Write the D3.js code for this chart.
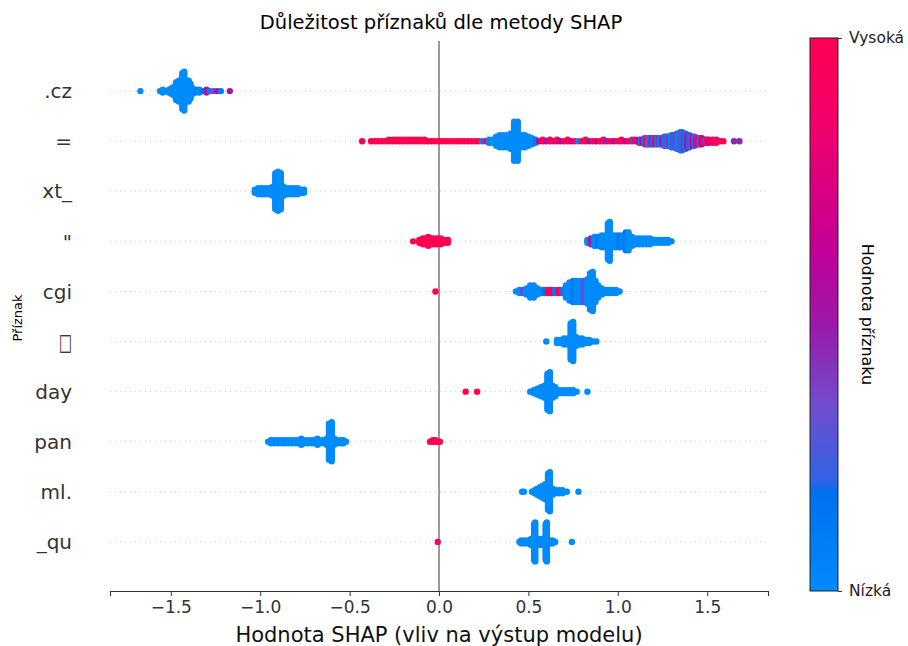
<!DOCTYPE html>
<html>
<head>
<meta charset="utf-8">
<script src="https://cdn.jsdelivr.net/npm/d3@7"></script>
<style>
  body { margin: 0; background: #fff; }
  svg { display: block; font-family: "DejaVu Sans", sans-serif; }
</style>
</head>
<body>
<svg id="chart" width="908" height="646"></svg>
<script>
// features, top to bottom (the sixth one is shown as a missing-glyph box)
const features = [".cz", "=", "xt_", "\"", "cgi", "\u25A1", "day", "pan", "ml.", "_qu"];

// each bin: [shap value, number of samples stacked there, feature value 0..1]
const czBins = [
  [-1.67, 1, 0], [-1.56, 1, 0], [-1.545, 3, 0], [-1.53, 1, 0], [-1.51, 3, 0], [-1.495, 5, 0],
  [-1.48, 7, 0], [-1.47, 13, 0], [-1.455, 15, 0], [-1.445, 15, 0], [-1.435, 25, 0], [-1.425, 27, 0],
  [-1.41, 15, 0], [-1.40, 15, 0], [-1.39, 11, 0], [-1.38, 5, 0],
  [-1.36, 3, 0.05], [-1.34, 3, 0], [-1.32, 1, 0.15], [-1.30, 3, 0.45], [-1.28, 1, 0.2],
  [-1.26, 1, 0.3], [-1.24, 1, 0.55], [-1.22, 1, 0.1], [-1.17, 1, 0.5]
];
const eqBins = [
  [-0.43, 1, 1],
  [-0.38, 1, 1], [-0.36, 1, 1], [-0.34, 1, 1], [-0.32, 1, 1], [-0.30, 1, 1],
  [-0.28, 2, 1], [-0.26, 2, 1], [-0.24, 2, 1], [-0.22, 2, 1], [-0.20, 2, 1], [-0.18, 2, 1],
  [-0.16, 2, 1], [-0.14, 2, 1], [-0.12, 2, 1], [-0.10, 2, 1], [-0.08, 2, 1],
  [-0.06, 1, 1], [-0.04, 1, 1], [-0.02, 1, 1], [0.00, 1, 1], [0.02, 1, 1], [0.04, 1, 1],
  [0.06, 1, 1], [0.08, 1, 1], [0.10, 1, 1], [0.12, 1, 1], [0.14, 1, 1], [0.16, 1, 1],
  [0.18, 1, 1], [0.20, 1, 1], [0.22, 1, 1],
  [0.24, 1, 0.05], [0.26, 1, 1], [0.28, 3, 0.05],
  [0.30, 3, 0], [0.32, 7, 0], [0.34, 9, 0], [0.36, 9, 0], [0.38, 9, 0], [0.40, 11, 0],
  [0.42, 27, 0], [0.44, 27, 0], [0.46, 9, 0], [0.48, 9, 0], [0.50, 7, 0], [0.52, 5, 0], [0.54, 3, 0.1],
  [0.56, 1, 0.6], [0.58, 2, 1], [0.60, 1, 0.5], [0.62, 2, 1], [0.64, 1, 0.7], [0.66, 2, 1],
  [0.68, 1, 0.55], [0.70, 1, 1], [0.72, 2, 1], [0.74, 1, 0.6], [0.76, 1, 1], [0.78, 1, 0.05],
  [0.80, 1, 1], [0.82, 2, 1], [0.84, 1, 0.5], [0.86, 1, 1], [0.88, 1, 0.65], [0.90, 1, 1],
  [0.92, 2, 1], [0.94, 1, 0.45], [0.96, 1, 1], [0.98, 1, 0.5], [1.00, 1, 1], [1.02, 2, 1],
  [1.04, 1, 0.6], [1.06, 1, 1], [1.08, 2, 0.4], [1.10, 2, 1],
  [1.12, 3, 0.5], [1.13, 3, 0.1], [1.14, 3, 0.6], [1.15, 5, 0.2], [1.16, 5, 1], [1.17, 5, 0.3],
  [1.18, 5, 0.1], [1.19, 5, 0.45], [1.20, 5, 0.2], [1.21, 5, 0.9], [1.22, 5, 0.1], [1.23, 5, 0.4],
  [1.24, 5, 0.05], [1.25, 5, 0.5], [1.26, 7, 0.2], [1.27, 7, 0.3], [1.28, 7, 0.1], [1.29, 7, 0.4],
  [1.30, 9, 0.05], [1.31, 9, 0.3], [1.32, 9, 0.15], [1.33, 11, 0.35], [1.34, 11, 0.05], [1.35, 13, 0.25],
  [1.36, 13, 0.1], [1.37, 11, 0.4], [1.38, 11, 0.2], [1.39, 9, 0.5], [1.40, 9, 0.15], [1.41, 7, 0.35],
  [1.42, 7, 0.6], [1.43, 7, 0.2], [1.44, 5, 0.45], [1.45, 5, 0.9], [1.46, 5, 0.3], [1.47, 5, 0.55],
  [1.48, 3, 1], [1.49, 3, 0.4], [1.50, 3, 1], [1.51, 3, 0.7], [1.53, 3, 1], [1.55, 3, 0.9],
  [1.57, 1, 1], [1.59, 1, 1],
  [1.65, 1, 0.45], [1.68, 1, 0.45]
];
const xtBins = [
  [-1.03, 3, 0], [-1.01, 5, 0], [-0.99, 5, 0], [-0.97, 5, 0], [-0.95, 5, 0], [-0.93, 7, 0],
  [-0.915, 25, 0], [-0.90, 27, 0], [-0.885, 25, 0],
  [-0.87, 7, 0], [-0.85, 5, 0], [-0.83, 5, 0], [-0.81, 5, 0], [-0.79, 5, 0], [-0.77, 3, 0], [-0.755, 3, 0]
];
const quoteBins = [
  [-0.145, 1, 1], [-0.11, 3, 1], [-0.09, 5, 1], [-0.075, 5, 1], [-0.06, 7, 1], [-0.045, 5, 1],
  [-0.03, 5, 1], [-0.01, 5, 1], [0.01, 5, 1], [0.03, 3, 1], [0.05, 3, 1],
  [0.83, 3, 0], [0.85, 5, 0.45], [0.87, 7, 0], [0.89, 7, 0.1], [0.91, 9, 0], [0.93, 9, 0],
  [0.945, 25, 0], [0.955, 27, 0], [0.97, 9, 0], [0.99, 9, 0], [1.01, 9, 0.1], [1.03, 9, 0],
  [1.045, 13, 0.12], [1.06, 13, 0], [1.08, 7, 0], [1.10, 5, 0], [1.12, 5, 0], [1.14, 5, 0],
  [1.16, 5, 0], [1.18, 5, 0], [1.20, 3, 0], [1.22, 3, 0], [1.24, 3, 0], [1.26, 3, 0],
  [1.28, 3, 0], [1.30, 1, 0]
];
const cgiBins = [
  [-0.02, 1, 1],
  [0.43, 1, 0], [0.45, 3, 0], [0.47, 3, 0.3], [0.49, 5, 0], [0.51, 9, 0], [0.53, 9, 0],
  [0.55, 5, 0], [0.57, 3, 0], [0.59, 3, 0.15], [0.61, 3, 1], [0.63, 3, 1], [0.65, 3, 0.1],
  [0.67, 3, 1], [0.69, 3, 0.2], [0.71, 9, 0], [0.73, 13, 0], [0.75, 15, 0.1], [0.77, 15, 0],
  [0.79, 15, 0], [0.81, 15, 0.3], [0.83, 17, 0], [0.845, 25, 0], [0.86, 27, 0], [0.875, 15, 0],
  [0.89, 9, 0], [0.91, 5, 0], [0.93, 3, 0], [0.95, 3, 0], [0.97, 3, 0], [0.99, 3, 0], [1.01, 1, 0]
];
const squareBins = [
  [0.60, 1, 0], [0.66, 3, 0], [0.68, 3, 0], [0.70, 5, 0], [0.72, 5, 0],
  [0.737, 25, 0], [0.75, 27, 0], [0.765, 7, 0], [0.78, 5, 0], [0.80, 5, 0], [0.82, 3, 0],
  [0.84, 3, 0], [0.86, 1, 0], [0.88, 1, 0]
];
const dayBins = [
  [0.149, 1, 1], [0.213, 1, 1],
  [0.51, 1, 0], [0.53, 3, 0], [0.55, 5, 0], [0.57, 7, 0], [0.59, 9, 0], [0.607, 25, 0],
  [0.62, 27, 0], [0.635, 9, 0], [0.65, 7, 0], [0.67, 3, 0], [0.69, 3, 0], [0.71, 3, 0],
  [0.73, 3, 0], [0.75, 3, 0], [0.77, 1, 0], [0.83, 1, 0]
];
const panBins = [
  [-0.955, 1, 0], [-0.94, 3, 0], [-0.92, 3, 0], [-0.90, 3, 0], [-0.88, 3, 0], [-0.86, 3, 0],
  [-0.84, 3, 0], [-0.82, 3, 0], [-0.80, 3, 0], [-0.78, 3, 0], [-0.77, 5, 0], [-0.75, 3, 0],
  [-0.73, 3, 0], [-0.71, 3, 0], [-0.69, 3, 0], [-0.68, 5, 0], [-0.66, 3, 0], [-0.64, 3, 0],
  [-0.628, 5, 0], [-0.615, 25, 0], [-0.60, 27, 0], [-0.585, 5, 0], [-0.57, 3, 0],
  [-0.55, 3, 0], [-0.535, 3, 0], [-0.52, 1, 0],
  [-0.05, 1, 1], [-0.035, 2, 1], [-0.02, 2, 1], [-0.005, 1, 1], [0.005, 1, 1]
];
const mlBins = [
  [0.465, 1, 0], [0.475, 1, 0], [0.52, 1, 0], [0.535, 3, 0], [0.55, 5, 0], [0.565, 7, 0],
  [0.58, 9, 0], [0.595, 11, 0], [0.61, 25, 0], [0.62, 27, 0], [0.635, 5, 0], [0.65, 3, 0],
  [0.67, 3, 0], [0.69, 3, 0], [0.715, 1, 0], [0.78, 1, 0]
];
const quBins = [
  [-0.007, 1, 0.88],
  [0.45, 1, 0], [0.46, 3, 0], [0.48, 3, 0], [0.50, 3, 0], [0.515, 5, 0], [0.532, 25, 0],
  [0.538, 27, 0], [0.555, 5, 0], [0.575, 5, 0], [0.597, 25, 0], [0.603, 27, 0], [0.62, 3, 0],
  [0.635, 3, 0], [0.65, 1, 0], [0.743, 1, 0]
];
const rows = [czBins, eqBins, xtBins, quoteBins, cgiBins, squareBins, dayBins, panBins, mlBins, quBins];

const xTicks = [-1.5, -1.0, -0.5, 0.0, 0.5, 1.0, 1.5];

// shap red_blue colour map (approx)
const cmapStops = [0, 0.18, 0.2, 0.34, 0.48, 0.62, 0.83, 1];
const cmapColors = ["rgb(0,139,251)", "rgb(0,112,240)", "rgb(50,100,228)", "rgb(115,75,205)",
  "rgb(155,25,170)", "rgb(195,0,150)", "rgb(240,0,110)", "rgb(255,0,82)"];

const svg = d3.select("#chart");
const W = 908, H = 646;
svg.append("rect").attr("width", W).attr("height", H).attr("fill", "#fff");

const x = d3.scaleLinear().domain([-1.84, 1.84]).range([110, 768]);
const y = d3.scaleLinear().domain([-1, features.length]).range([41, 592]);
const color = d3.scaleLinear().domain(cmapStops).range(cmapColors).interpolate(d3.interpolateRgb);

const g = svg.append("g");

// dotted row guides
g.selectAll("line.guide")
  .data(features)
  .join("line")
  .attr("class", "guide")
  .attr("x1", x.range()[0])
  .attr("x2", x.range()[1])
  .attr("y1", (d, i) => y(i))
  .attr("y2", (d, i) => y(i))
  .attr("stroke", "#ccc")
  .attr("stroke-width", 1)
  .attr("stroke-dasharray", "1 4");

// zero line
g.append("line")
  .attr("x1", x(0)).attr("x2", x(0))
  .attr("y1", y(-1)).attr("y2", y(features.length) - 1)
  .attr("stroke", "#999")
  .attr("stroke-width", 2);

// beeswarm: stack the samples of each bin around the row line
const step = 1.5;
const dots = [];
rows.forEach((bins, row) => {
  bins.forEach(([v, n, fv]) => {
    for (let k = 0; k < n; k++) {
      const layer = Math.ceil(k / 2);
      const sign = k % 2 === 1 ? -1 : 1;
      dots.push({ v, row, fv, off: sign * layer * step });
    }
  });
});

g.selectAll("circle.dot")
  .data(dots)
  .join("circle")
  .attr("class", "dot")
  .attr("cx", (d) => x(d.v))
  .attr("cy", (d) => y(d.row) + d.off)
  .attr("r", 3.2)
  .attr("fill", (d) => color(d.fv));

// x axis
const xAxis = g.append("g")
  .attr("transform", `translate(0,${y(features.length) - 1})`)
  .call(d3.axisBottom(x).tickValues(xTicks).tickSize(5).tickPadding(5)
    .tickFormat((d) => d3.format(".1f")(d).replace("-", "\u2212")));
xAxis.select(".domain").attr("stroke", "#333").attr("stroke-width", 1.1);
xAxis.selectAll(".tick line").attr("stroke", "#333");
xAxis.selectAll(".tick text")
  .attr("fill", "#333")
  .style("font-size", "17px")
  .style("font-family", "DejaVu Sans");

// y tick labels; the box glyph is squeezed to look like a missing-glyph box
const isBox = (d) => d === "\u25A1";
g.selectAll("text.ylab")
  .data(features)
  .join("text")
  .attr("class", "ylab")
  .attr("transform", (d, i) =>
    `translate(72,${y(i)})` + (isBox(d) ? " scale(0.62,1.05)" : ""))
  .attr("dy", "0.36em")
  .attr("text-anchor", "end")
  .attr("fill", "#333")
  .attr("stroke", (d) => (isBox(d) ? "#555" : null))
  .attr("stroke-width", (d) => (isBox(d) ? 0.2 : null))
  .style("font-size", (d) => (isBox(d) ? "22px" : "20px"))
  .text((d) => d);

// titles
svg.append("text")
  .attr("x", 441).attr("y", 29)
  .attr("text-anchor", "middle")
  .style("font-size", "19.5px")
  .text("Důležitost příznaků dle metody SHAP");

svg.append("text")
  .attr("x", 439).attr("y", 642)
  .attr("text-anchor", "middle")
  .style("font-size", "21px")
  .attr("fill", "#111")
  .text("Hodnota SHAP (vliv na výstup modelu)");

svg.append("text")
  .attr("transform", "translate(22,318) rotate(-90)")
  .attr("text-anchor", "middle")
  .style("font-size", "13px")
  .text("Příznak");

// colour bar
const cb = { x: 810, y: 38, w: 28, h: 553 };
const grad = svg.append("defs").append("linearGradient")
  .attr("id", "cbar").attr("x1", 0).attr("y1", 1).attr("x2", 0).attr("y2", 0);
d3.range(0, 1.0001, 0.02).forEach((t) => {
  grad.append("stop").attr("offset", t).attr("stop-color", color(t));
});
svg.append("rect")
  .attr("x", cb.x).attr("y", cb.y).attr("width", cb.w).attr("height", cb.h)
  .attr("fill", "url(#cbar)")
  .attr("stroke", "#222").attr("stroke-width", 1);

const cbScale = d3.scaleLinear().domain([0, 1]).range([cb.y + cb.h, cb.y]);
const cbAxis = svg.append("g")
  .attr("transform", `translate(${cb.x + cb.w},0)`)
  .call(d3.axisRight(cbScale).tickValues([0, 1]).tickSize(4).tickPadding(7)
    .tickFormat((d) => (d === 1 ? "Vysoká" : "Nízká")));
cbAxis.select(".domain").remove();
cbAxis.selectAll(".tick line").attr("stroke", "#333");
cbAxis.selectAll(".tick text")
  .attr("fill", "#222")
  .style("font-size", "15.5px")
  .style("font-family", "DejaVu Sans");

svg.append("text")
  .attr("transform", `translate(862,${cb.y + cb.h / 2}) rotate(90)`)
  .attr("text-anchor", "middle")
  .style("font-size", "16px")
  .text("Hodnota příznaku");
</script>
</body>
</html>
